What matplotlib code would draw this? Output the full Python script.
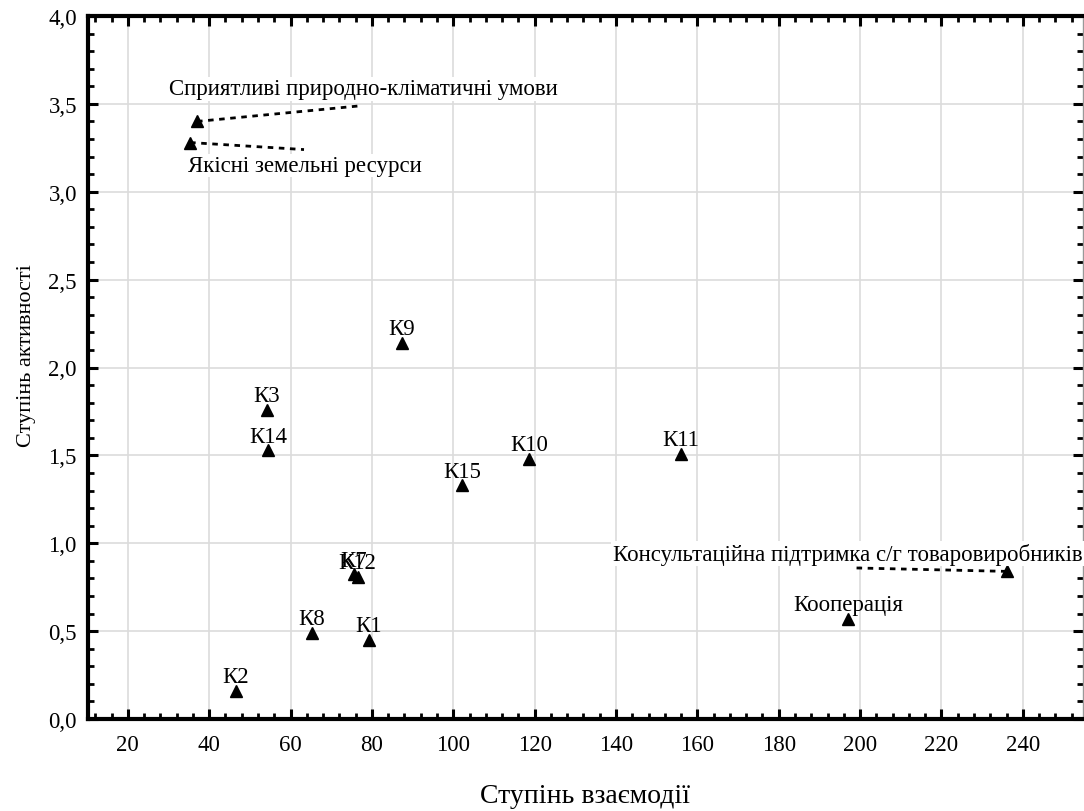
import matplotlib
matplotlib.use("Agg")
import matplotlib.pyplot as plt
from matplotlib.ticker import MultipleLocator, FuncFormatter

plt.rcParams['font.family'] = ['Liberation Serif', 'DejaVu Serif']

# Points labelled directly above the marker
labels = ["К1", "К2", "К3", "К7", "К8", "К9", "К10", "К11", "К12", "К14", "К15", "Кооперація"]
x_vals = [79.2, 46.6, 54.2, 75.6, 65.3, 87.4, 118.7, 156.0, 76.5, 54.4, 102.1, 197.0]
y_vals = [0.45, 0.16, 1.76, 0.825, 0.49, 2.14, 1.48, 1.51, 0.81, 1.53, 1.33, 0.57]

# Points with leader lines to a displaced label
lead_labels = ["Сприятливі природно-кліматичні умови",
               "Якісні земельні ресурси",
               "Консультаційна підтримка с/г товаровиробників"]
lead_x = [37.0, 35.3, 236.0]
lead_y = [3.40, 3.28, 0.84]
lead_text_x = [77.8, 63.5, 196.9]
lead_text_y = [3.585, 3.15, 0.94]
lead_end_x = [77.6, 63.3, 197.9]
lead_end_y = [3.49, 3.24, 0.86]

x_label = "Ступінь взаємодії"
y_label = "Ступінь активності"

fig = plt.figure(figsize=(10.84, 8.12), dpi=100)
ax = fig.add_axes([88/1084, 92/812, (1083-88)/1084, (720-17)/812])

ax.set_xlim(10.2, 254.8)
ax.set_ylim(0, 4.0)

ax.xaxis.set_major_locator(MultipleLocator(20))
ax.xaxis.set_minor_locator(MultipleLocator(4))
ax.yaxis.set_major_locator(MultipleLocator(0.5))
ax.yaxis.set_minor_locator(MultipleLocator(0.1))
ax.yaxis.set_major_formatter(FuncFormatter(lambda v, p: f"{v:.1f}".replace('.', ',')))
ax.xaxis.set_major_formatter(FuncFormatter(lambda v, p: f"{v:.0f}"))

ax.grid(True, which='major', color='#dcdcdc', linewidth=1.2)
ax.set_axisbelow(True)

ax.tick_params(which='major', direction='in', length=7, width=2.2, top=True, right=True,
               labelsize=16.5, colors='black')
ax.tick_params(axis='x', which='major', pad=11)
ax.tick_params(axis='y', which='major', pad=8)
ax.tick_params(which='minor', direction='in', length=4, width=2.0, top=True, right=True)

for side in ['left', 'bottom', 'top']:
    ax.spines[side].set_linewidth(3)
    ax.spines[side].set_color('black')
ax.spines['right'].set_linewidth(1)
ax.spines['right'].set_color('#999999')

ax.plot(x_vals, y_vals, linestyle='none', marker='^', color='black', markersize=8)
ax.plot(lead_x, lead_y, linestyle='none', marker='^', color='black', markersize=8)

for lab, xv, yv in zip(labels, x_vals, y_vals):
    ax.annotate(lab, (xv, yv), xytext=(0, 14), textcoords='offset pixels',
                ha='center', va='center', fontsize=16.5)

for lab, xv, yv, tx, ty, ex, ey in zip(lead_labels, lead_x, lead_y, lead_text_x,
                                       lead_text_y, lead_end_x, lead_end_y):
    ax.text(tx, ty, lab, ha='center', va='center', fontsize=16.5, clip_on=False,
            bbox=dict(facecolor='white', edgecolor='none', pad=1))
    ax.plot([xv, ex], [yv, ey], color='black', linewidth=2, linestyle=(0, (2, 2)))

ax.set_xlabel(x_label, fontsize=20, labelpad=20)
ax.set_ylabel(y_label, fontsize=16, labelpad=9, y=0.518)

fig.savefig("out.png", dpi=100)
